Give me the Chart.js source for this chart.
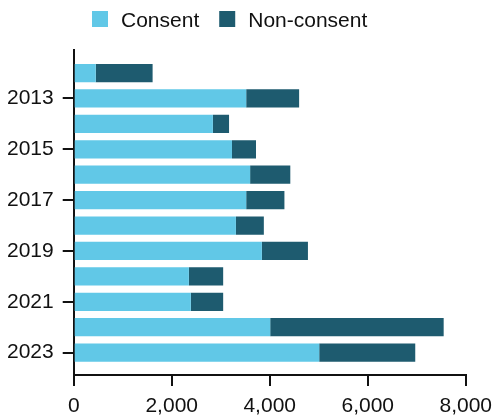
<!DOCTYPE html>
<html>
<head>
<meta charset="utf-8">
<script src="https://cdn.jsdelivr.net/npm/chart.js@4/dist/chart.umd.min.js"></script>
<style>
html,body{margin:0;padding:0;background:#fff;}
#wrap{width:492px;height:416px;position:relative;}
</style>
</head>
<body>
<div id="wrap"><canvas id="c" width="492" height="416"></canvas></div>
<script>
const years = [2012, 2013, 2014, 2015, 2016, 2017, 2018, 2019, 2020, 2021, 2022, 2023];
const labeledYears = [2013, 2015, 2017, 2019, 2021, 2023];
const consent = [450, 3520, 2840, 3230, 3600, 3520, 3310, 3840, 2350, 2390, 4010, 5010];
const nonConsent = [1160, 1080, 330, 490, 820, 780, 570, 940, 700, 660, 3540, 1960];
const xTicks = [0, 2000, 4000, 6000, 8000];
const seriesNames = ['Consent', 'Non-consent'];

const FONT = '"Liberation Sans", Arial, Helvetica, sans-serif';
const TEXT = '#111111';

const legendPlugin = {
  id: 'topLegend',
  afterDraw(chart) {
    const ctx = chart.ctx;
    ctx.save();
    ctx.font = '21px ' + FONT;
    ctx.textBaseline = 'alphabetic';
    let x = 92;
    chart.data.datasets.forEach(ds => {
      ctx.fillStyle = ds.backgroundColor;
      ctx.fillRect(x, 11, 16, 16);
      ctx.fillStyle = TEXT;
      ctx.fillText(ds.label, x + 29, 27);
      x += 29 + ctx.measureText(ds.label).width + 20;
    });
    ctx.restore();
  }
};

new Chart(document.getElementById('c'), {
  type: 'bar',
  data: {
    datasets: [
      {
        label: seriesNames[0],
        data: consent.map((v, i) => ({ x: v, y: years[i] })),
        backgroundColor: '#61C8E7',
        borderWidth: 0
      },
      {
        label: seriesNames[1],
        data: nonConsent.map((v, i) => ({ x: v, y: years[i] })),
        backgroundColor: '#1E5B6F',
        borderWidth: 0
      }
    ]
  },
  options: {
    indexAxis: 'y',
    responsive: false,
    animation: false,
    devicePixelRatio: 1,
    categoryPercentage: 0.8,
    barPercentage: 0.9,
    layout: { padding: { top: 50, left: -2, right: 0, bottom: -10 } },
    plugins: {
      legend: { display: false },
      tooltip: { enabled: false }
    },
    scales: {
      x: {
        type: 'linear',
        stacked: true,
        min: 0,
        max: 8000,
        afterBuildTicks: s => { s.ticks = xTicks.map(v => ({ value: v })); },
        ticks: {
          color: TEXT,
          font: { family: FONT, size: 21, lineHeight: '40px' },
          padding: 0,
          maxRotation: 0,
          callback: v => Number(v).toLocaleString('en-US')
        },
        grid: { drawOnChartArea: false, drawTicks: true, tickLength: 11, color: '#111', lineWidth: 2 },
        border: { display: true, color: '#111', width: 2 }
      },
      y: {
        type: 'linear',
        stacked: true,
        reverse: true,
        offset: false,
        min: 2011.094,
        max: 2023.88,
        afterBuildTicks: s => { s.ticks = labeledYears.map(v => ({ value: v })); },
        ticks: {
          color: TEXT,
          font: { family: FONT, size: 21, lineHeight: 1.2 },
          padding: 9,
          callback: v => String(v)
        },
        grid: { offset: false, drawOnChartArea: false, drawTicks: true, tickLength: 11, color: '#111', lineWidth: 2 },
        border: { display: true, color: '#111', width: 2 }
      }
    }
  },
  plugins: [legendPlugin]
});
</script>
</body>
</html>
